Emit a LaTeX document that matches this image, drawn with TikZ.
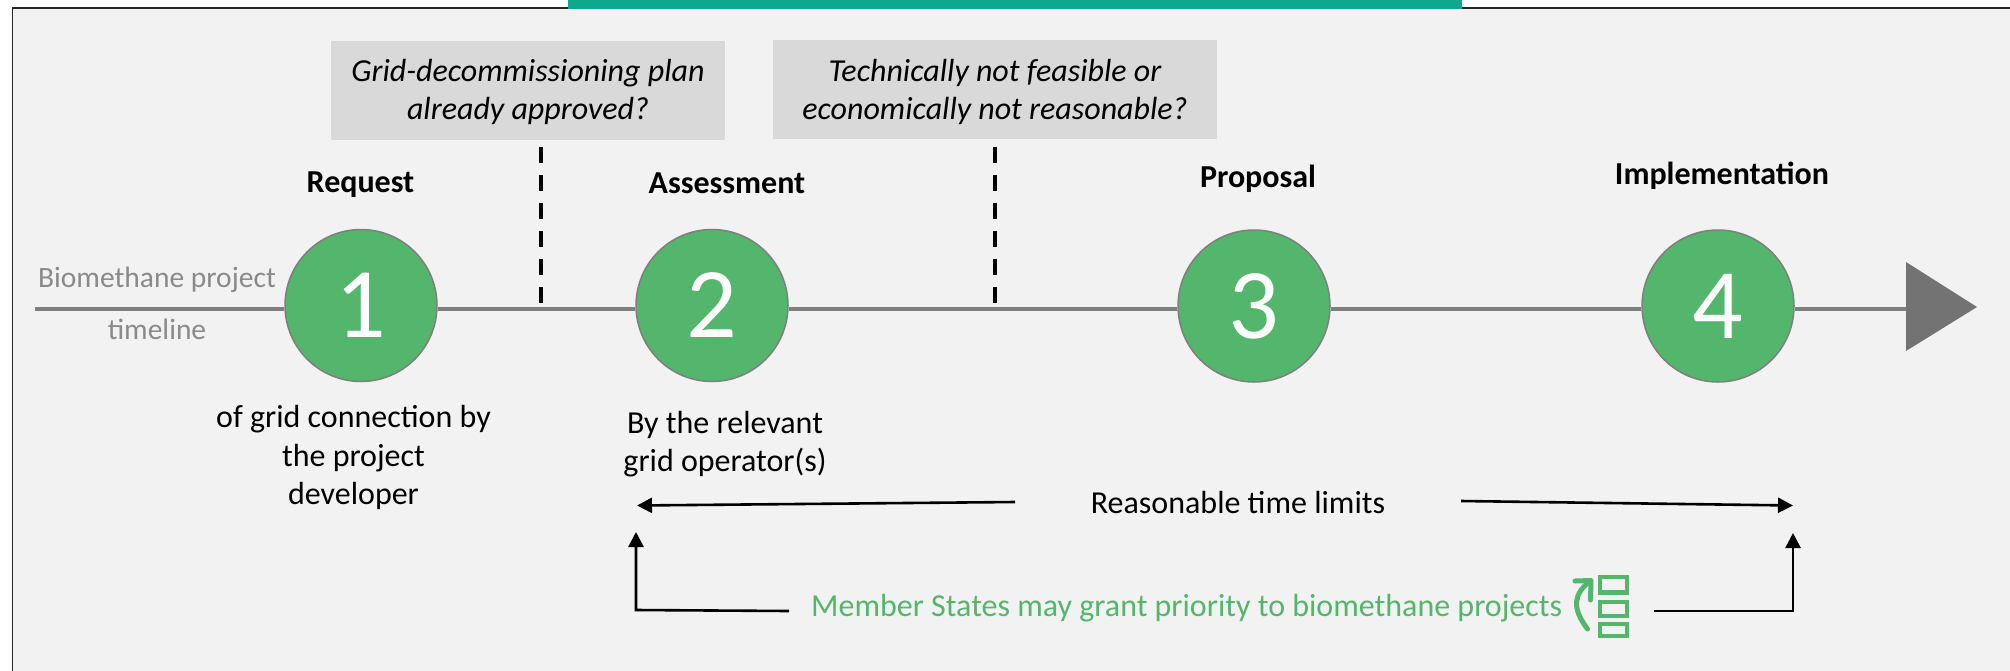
\documentclass[tikz,border=0pt]{standalone}
\usepackage{fontspec}
\setmainfont{Carlito}
\usetikzlibrary{arrows.meta,positioning}
\definecolor{grn}{HTML}{54B56C}
\definecolor{teal1}{HTML}{0FA88F}
\definecolor{panel}{HTML}{F2F2F2}
\definecolor{boxg}{HTML}{D9D9D9}
\definecolor{lineg}{HTML}{7F7F7F}
\definecolor{greytxt}{HTML}{8A8A8A}
\definecolor{trig}{HTML}{737373}
\tikzset{
  numc/.style={circle,fill=grn,draw=lineg,line width=1.5pt,minimum size=152pt,inner sep=0pt,text=white,font=\fontsize{100}{100}\selectfont},
  head/.style={font=\fontsize{32}{32}\selectfont\bfseries,inner sep=0pt},
  body/.style={font=\fontsize{32}{38.5}\selectfont,align=center,inner sep=0pt},
  qtext/.style={inner sep=0pt,font=\fontsize{32}{38.5}\selectfont\itshape,align=center},
  qbox/.style={fill=boxg,inner sep=0pt},
  grey/.style={font=\fontsize{29.5}{29.5}\selectfont,text=greytxt,inner sep=0pt},
  tl/.style={draw=lineg,line width=3.8pt},
  dsh/.style={draw=black,line width=4pt,dash pattern=on 16pt off 12pt},
  arr/.style={draw=black,line width=2.6pt,-{Triangle[width=15pt,length=15pt]}},
  ico/.style={draw=grn,line width=4.5pt},
}
\newcommand{\dg}[1]{\raisebox{-3pt}{#1}}
\begin{document}
\begin{tikzpicture}[x=1pt,y=-1pt]
\useasboundingbox (0,0) rectangle (2010,670);
\clip (0,0) rectangle (2010,670);
\fill[white] (0,0) rectangle (2010,670);
\draw[fill=panel,draw=black!85,line width=1.6pt] (12.5,8) rectangle (2030,690);
\fill[teal1] (568,0) rectangle (1462,9);
% timeline
\coordinate (tstart) at (35,309);
\node[numc] (c1) at (361,305.5) {\dg{1}};
\node[numc] (c2) at (712,305.5) {\dg{2}};
\node[numc] (c3) at (1254,306) {\dg{3}};
\node[numc] (c4) at (1718,306) {\dg{4}};
\coordinate (tri) at (1906,309);
\draw[tl] (tstart) -- (c1.west |- tstart);
\draw[tl] (c1.east |- tstart) -- (c2.west |- tstart);
\draw[tl] (c2.east |- tstart) -- (c3.west |- tstart);
\draw[tl] (c3.east |- tstart) -- (c4.west |- tstart);
\draw[tl] (c4.east |- tstart) -- (tri);
\fill[trig] (1906,262) -- (1977,307) -- (1906,351) -- cycle;
% question boxes
\node[qbox,minimum width=394pt,minimum height=99pt] (q1) at (528,90.5) {};
\node[qtext] (q1t) at (528,92) {Grid-decommissioning plan\\already approved?};
\node[qbox,minimum width=444pt,minimum height=99pt] (q2) at (995,89.5) {};
\node[qtext] (q2t) at (995,92) {Technically not feasible or\\economically not reasonable?};
% dashed
\coordinate (d1t) at (541,147);
\coordinate (d1b) at (541,306);
\coordinate (d2t) at (995,147);
\coordinate (d2b) at (995,306);
\draw[dsh] (d1t) -- (d1b);
\draw[dsh] (d2t) -- (d2b);
% headings
\node[head] (h1) at (360.5,185) {Request};
\node[head] (h2) at (727,183.5) {Assessment};
\node[head] (h3) at (1258,179) {Proposal};
\node[head] (h4) at (1722,175.5) {Implementation};
% labels
\node[grey] (b1) at (157,279.5) {Biomethane project};
\node[grey] (b2) at (157,329.5) {timeline};
\node[body] (t1) at (353.5,457.5) {of grid connection by\\the project\\developer};
\node[body] (t2) at (725,444) {By the relevant\\grid operator(s)};
\node[body] (t3) at (1238,502.5) {Reasonable time limits};
\node[font=\fontsize{32}{32}\selectfont,text=grn,inner sep=0pt,anchor=west] (t4) at (811,608.5) {Member States may grant priority to biomethane projects};
% arrows
\coordinate (a1s) at (1015,502);
\coordinate (a1e) at (637,505.5);
\coordinate (a2s) at (1461,501);
\coordinate (a2e) at (1793,505.5);
\draw[arr] (a1s) -- (a1e);
\draw[arr] (a2s) -- (a2e);
\coordinate (a3s) at (789,611);
\coordinate (a3c) at (636,610);
\coordinate (a3e) at (636,532);
\draw[arr] (a3s) -- (a3c) -- (a3e);
\coordinate (a4s) at (1654,611);
\coordinate (a4c) at (1793,611);
\coordinate (a4e) at (1793,533);
\draw[arr] (a4s) -- (a4c) -- (a4e);
% icon
\draw[ico] (1600,577) rectangle (1627,592.5);
\draw[ico] (1600,602) rectangle (1627,616);
\draw[ico] (1600,624) rectangle (1627,636);
\draw[ico,line width=5pt,line cap=round,line join=round] (1587.5,629) .. controls (1571,607) and (1574,594) .. (1590,581);
\draw[ico,line width=5pt,line cap=round,line join=round] (1575,581) -- (1591,580.5) -- (1590.5,600);
\end{tikzpicture}
\end{document}
